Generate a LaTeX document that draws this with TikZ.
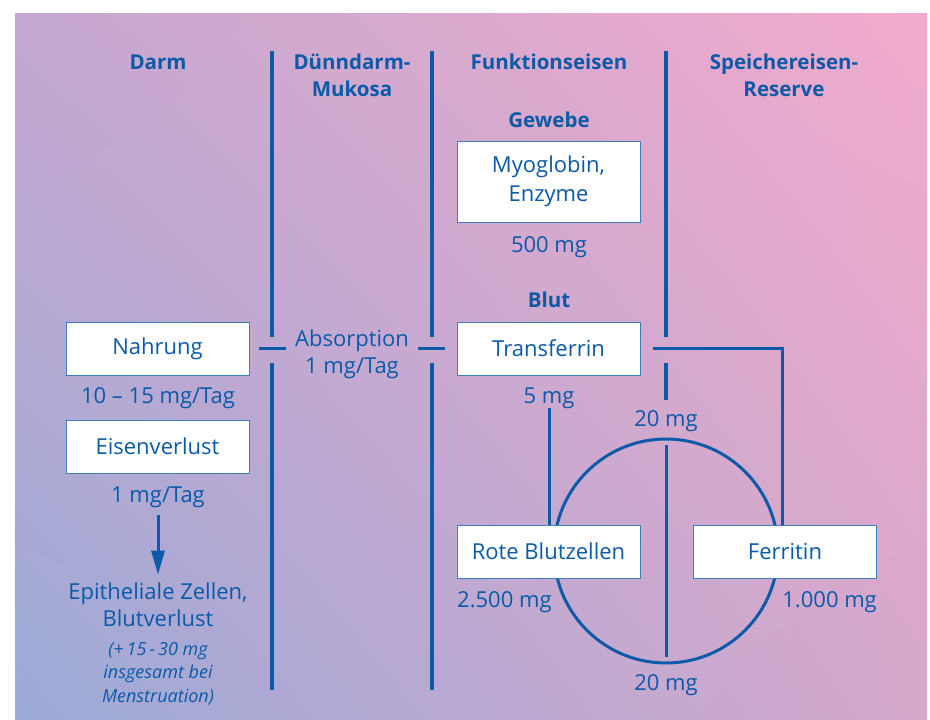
\documentclass[tikz,border=0pt]{standalone}
\usepackage{fontspec}
\setmainfont{Open Sans}
\usetikzlibrary{arrows.meta, shadings}

\definecolor{ironblue}{RGB}{10,90,168}
\definecolor{boxline}{RGB}{60,125,190}
\definecolor{bgTL}{RGB}{197,168,208}
\definecolor{bgTR}{RGB}{242,170,204}
\definecolor{bgBL}{RGB}{155,170,215}
\definecolor{bgBR}{RGB}{214,168,204}

\tikzset{
  fbox/.style={draw=boxline, line width=1pt, fill=white, inner sep=0pt,
    minimum width=183pt, minimum height=53pt, align=center,
    text=ironblue, font=\fontsize{22}{29}\selectfont},
  lbl/.style={text=ironblue, inner sep=0pt, anchor=base, align=center,
    font=\fontsize{22}{26.5}\selectfont},
  head/.style={lbl, font=\fontsize{20.5}{27}\selectfont\bfseries},
  note/.style={lbl, font=\fontsize{18}{23.5}\selectfont\itshape},
  divider/.style={ironblue, line width=4pt},
  link/.style={ironblue, line width=3pt}
}

\begin{document}
\begin{tikzpicture}[x=1pt, y=-1pt]
\useasboundingbox (0,0) rectangle (930,720);
\shade[upper left=bgTL, upper right=bgTR, lower left=bgBL, lower right=bgBR]
  (15,13) rectangle (927,720);

% column dividers
\foreach \x in {272,432} {
  \draw[divider] (\x,51) -- (\x,337) (\x,363) -- (\x,690);
}
\draw[divider] (666,51) -- (666,337) (666,363) -- (666,400);
\coordinate (pool) at (666,551);
\draw[link] (pool) circle[radius=112];
\draw[link] ([yshift=106pt]pool) -- ([yshift=-106pt]pool);

% headings (base = last line)
\node[head] (hDarm) at (158,69) {Darm};
\node[head] (hMukosa) at (352,96) {Dünndarm-\\Mukosa};
\node[head] (hFunktion) at (549,69) {Funktionseisen};
\node[head] (hSpeicher) at (784,96) {Speichereisen-\\Reserve};
\node[head] (hGewebe) at (549,127) {Gewebe};
\node[head] (hBlut) at (549,307) {Blut};

% boxes
\node[fbox, minimum height=81pt] (myo) at (548.5,181.5) {Myoglobin,\\Enzyme};
\node[fbox] (trans) at (548.5,348.5) {Transferrin};
\node[fbox] (food) at (157.5,348.5) {Nahrung};
\node[fbox] (loss) at (157.5,446.5) {Eisenverlust};
\node[fbox] (rbc) at (548.5,551.5) {Rote Blutzellen};
\node[fbox] (ferr) at (785,551.5) {Ferritin};

% amounts
\node[lbl] (myoMg) at (549,252) {500 mg};
\node[lbl] (transMg) at (549,403) {5 mg};
\node[lbl] (upMg) at (666,426) {20 mg};
\node[lbl] (lowMg) at (666,690) {20 mg};
\node[lbl, anchor=base west] (rbcMg) at (457,607) {2.500 mg};
\node[lbl, anchor=base east] (ferrMg) at (877,607) {1.000 mg};
\node[lbl] (foodMg) at (158,403) {10 – 15 mg/Tag};
\node[lbl] (lossMg) at (158,502) {1 mg/Tag};
\node[lbl] (absorb) at (352,373) {Absorption\\1 mg/Tag};
\node[lbl] (epi) at (158,626) {Epitheliale Zellen,\\Blutverlust};
\node[note] (mens) at (158,702) {(+\,15\,-\,30 mg\\insgesamt bei\\Menstruation)};

% connectors
\draw[link] ([xshift=9pt]food.east) -- ([xshift=36pt]food.east);
\draw[link] ([xshift=-39pt]trans.west) -- ([xshift=-12pt]trans.west);
\draw[link] ([xshift=12pt]trans.east) -| ([xshift=-3pt]ferr.north);
\draw[link] (transMg.south) -- (transMg.south |- rbc.north);
\draw[link, -{Triangle[width=13pt, length=24pt]}]
  ([yshift=-8pt]lossMg.south) -- ([yshift=8pt]epi.north);
\end{tikzpicture}
\end{document}
